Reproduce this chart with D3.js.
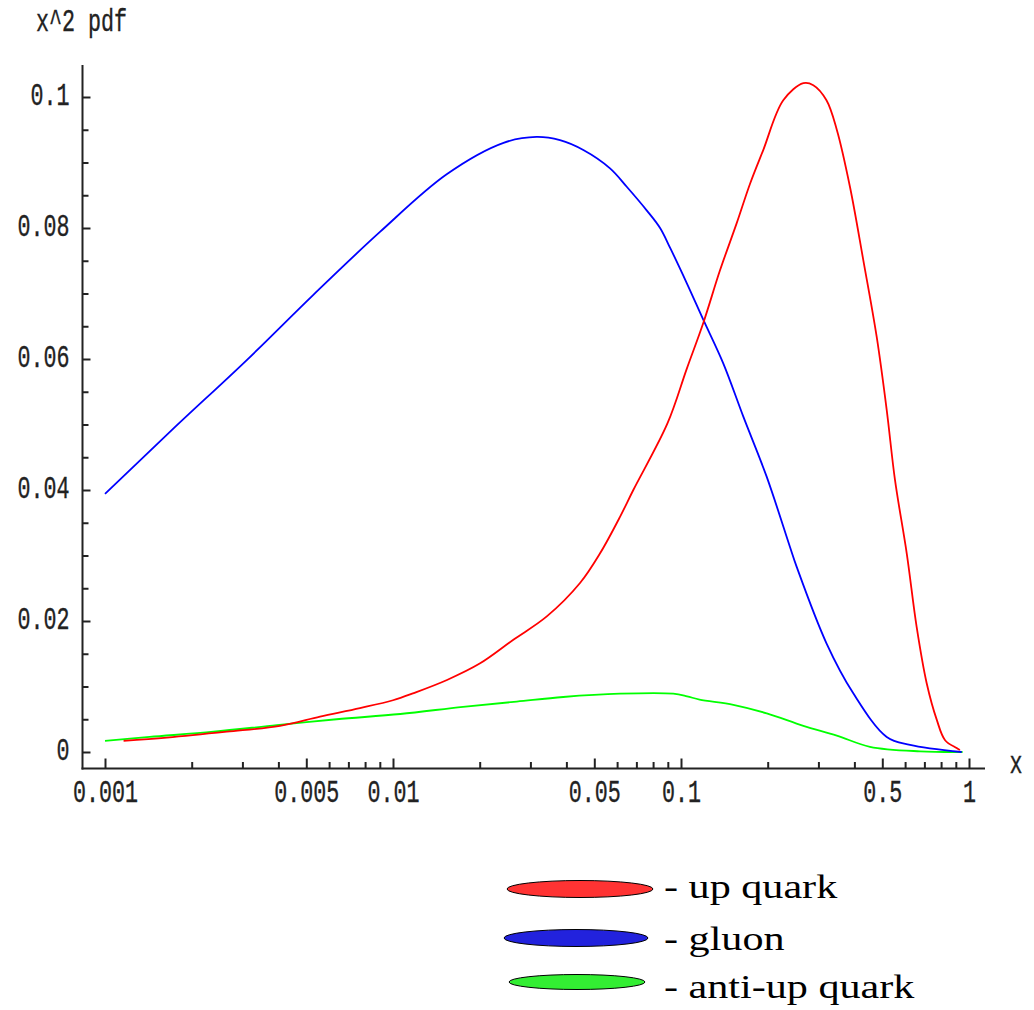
<!DOCTYPE html>
<html>
<head>
<meta charset="utf-8">
<script src="https://cdn.jsdelivr.net/npm/d3@7"></script>
<style>
  html, body { margin: 0; padding: 0; background: #fff; }
  svg { display: block; }
  .tick text { font-family: "Liberation Mono", "Courier New", monospace; font-size: 21.7px; fill: #222; stroke: #222; stroke-width: 0.25px; }
  .mono { font-family: "Liberation Mono", "Courier New", monospace; font-size: 21.7px; fill: #222; stroke: #222; stroke-width: 0.25px; }
  .legend-text { font-family: "Liberation Serif", "Times New Roman", serif; font-size: 34px; fill: #000; }
</style>
</head>
<body>
<script>
// Momentum-fraction grid and x^2·pdf values for each parton
const upX = [0.00116, 0.00164, 0.00265, 0.00405, 0.00558, 0.00768, 0.01, 0.0118, 0.0154, 0.020,
             0.0261, 0.0342, 0.0446, 0.0523, 0.0614, 0.0683, 0.0898, 0.1047, 0.1195, 0.1365,
             0.156, 0.1738, 0.193, 0.2265, 0.266, 0.288, 0.32, 0.3475, 0.386, 0.4295,
             0.478, 0.518, 0.5535, 0.608, 0.658, 0.713, 0.773, 0.826, 0.906, 0.93];
const upY = [0.0017, 0.0022, 0.0031, 0.0040, 0.0054, 0.0067, 0.0079, 0.0090, 0.0110, 0.0135,
             0.0171, 0.0207, 0.0258, 0.0303, 0.0359, 0.0400, 0.0502, 0.0585, 0.0655, 0.0735,
             0.0807, 0.0868, 0.0919, 0.0995, 0.1021, 0.1018, 0.0995, 0.0950, 0.0863, 0.0751,
             0.0634, 0.0522, 0.0415, 0.0303, 0.0191, 0.0105, 0.0049, 0.0018, 0.0006, 0.0003];

const gluonX = [0.001, 0.00173, 0.0031, 0.00529, 0.00901, 0.01536, 0.0242, 0.0315, 0.038, 0.0458,
                0.0567, 0.0648, 0.076, 0.0846, 0.0916, 0.1047, 0.1195, 0.1403, 0.1646, 0.1985,
                0.239, 0.252, 0.32, 0.396, 0.518, 0.624, 0.943];
const gluonY = [0.0394, 0.0494, 0.0598, 0.0698, 0.0794, 0.0882, 0.0930, 0.0939, 0.0934, 0.0919,
                0.0891, 0.0863, 0.0827, 0.0800, 0.0770, 0.0716, 0.0660, 0.0593, 0.0512, 0.0420,
                0.0313, 0.0283, 0.0166, 0.0090, 0.0023, 0.0011, 0.0000];

const antiUpX = [0.001, 0.00143, 0.00238, 0.00395, 0.00637, 0.0106, 0.0175, 0.0269, 0.039, 0.0614,
                 0.094, 0.105, 0.116, 0.152, 0.1985, 0.266, 0.3475, 0.453, 0.676, 0.95];
const antiUpY = [0.0017, 0.0023, 0.0031, 0.0041, 0.0050, 0.0058, 0.0069, 0.0077, 0.0084, 0.0089,
                 0.0089, 0.0085, 0.0080, 0.0072, 0.0059, 0.0040, 0.0025, 0.0008, 0.0001, 0.0000];

// Axis ticks
const xMajorTicks = [0.001, 0.005, 0.01, 0.05, 0.1, 0.5, 1];
const xTickLabels = ["0.001", "0.005", "0.01", "0.05", "0.1", "0.5", "1"];
const xMinorTicks = [0.002, 0.003, 0.004, 0.006, 0.007, 0.008, 0.009,
                     0.02, 0.03, 0.04, 0.06, 0.07, 0.08, 0.09,
                     0.2, 0.3, 0.4, 0.6, 0.7, 0.8, 0.9];
const yMajorTicks = [0, 0.02, 0.04, 0.06, 0.08, 0.1];
const yTickLabels = ["0", "0.02", "0.04", "0.06", "0.08", "0.1"];
const yMinorTicks = [0.005, 0.01, 0.015, 0.025, 0.03, 0.035, 0.045, 0.05, 0.055,
                     0.065, 0.07, 0.075, 0.085, 0.09, 0.095];

// Legend
const seriesNames = ["up quark", "gluon", "anti-up quark"];
const lineColors = ["#ff0000", "#0000ff", "#00ff00"];
const swatchColors = ["#ff3333", "#2222dd", "#33ee33"];

const W = 1034, H = 1010;
const svg = d3.select("body").append("svg").attr("width", W).attr("height", H);

const x = d3.scaleLog().domain([0.001, 1]).range([105, 969]);
const y = d3.scaleLinear().domain([0, 0.1]).range([752, 97]);

const axisX = 82.5, axisY = 768.5;
const SY = 1.42; // vertical stretch of the tick lettering

// Axis lines
svg.append("line").attr("x1", axisX).attr("x2", axisX).attr("y1", 65).attr("y2", 769.5)
  .attr("stroke", "#222").attr("stroke-width", 2);
svg.append("line").attr("x1", 81.5).attr("x2", 985).attr("y1", axisY).attr("y2", axisY)
  .attr("stroke", "#222").attr("stroke-width", 2);

// Y axis
const yMajor = svg.append("g").attr("transform", `translate(${axisX},0)`)
  .call(d3.axisLeft(y).tickValues(yMajorTicks).tickSize(-8).tickPadding(13)
    .tickFormat((d, i) => yTickLabels[i]));
const yMinor = svg.append("g").attr("transform", `translate(${axisX},0)`)
  .call(d3.axisLeft(y).tickValues(yMinorTicks).tickSize(-6).tickFormat(""));

// X axis
const xMajor = svg.append("g").attr("transform", `translate(0,${axisY})`)
  .call(d3.axisBottom(x).tickValues(xMajorTicks).tickSize(-10)
    .tickFormat((d, i) => xTickLabels[i]));
const xMinor = svg.append("g").attr("transform", `translate(0,${axisY})`)
  .call(d3.axisBottom(x).tickValues(xMinorTicks).tickSize(-6.5).tickFormat(""));

[yMajor, yMinor, xMajor, xMinor].forEach(g => {
  g.select(".domain").remove();
  g.selectAll(".tick line").attr("stroke", "#222").attr("stroke-width", 2);
});

yMajor.selectAll(".tick text")
  .attr("font-size", null).attr("font-family", null)
  .attr("dy", null).attr("y", 7.5 / SY)
  .attr("transform", `scale(1,${SY})`);
xMajor.selectAll(".tick text")
  .attr("font-size", null).attr("font-family", null)
  .attr("dy", null).attr("y", 33.5 / SY)
  .attr("transform", `scale(1,${SY})`);

// Axis titles
svg.append("g").attr("transform", `translate(36,31) scale(1,${SY})`)
  .append("text").attr("class", "mono").text("x^2 pdf");
svg.append("g").attr("transform", `translate(1016,773) scale(1,${SY})`)
  .append("text").attr("class", "mono").attr("text-anchor", "middle").text("x");

// Curves
const line = d3.line().x(d => x(d[0])).y(d => y(d[1])).curve(d3.curveCatmullRom.alpha(0.5));
const series = [
  { xs: antiUpX, ys: antiUpY, color: lineColors[2] },
  { xs: gluonX, ys: gluonY, color: lineColors[1] },
  { xs: upX, ys: upY, color: lineColors[0] }
];
series.forEach(s => {
  svg.append("path")
    .datum(s.xs.map((v, i) => [v, s.ys[i]]))
    .attr("d", line)
    .attr("fill", "none")
    .attr("stroke", s.color)
    .attr("stroke-width", 1.8)
    .attr("stroke-linejoin", "round");
});

// Legend
const legendRows = [
  { cx: 580, cy: 889, rx: 73, ry: 8.5, base: 898 },
  { cx: 576, cy: 938, rx: 72, ry: 8.5, base: 950 },
  { cx: 577, cy: 982, rx: 68, ry: 7.5, base: 998 }
];
legendRows.forEach((r, i) => {
  svg.append("ellipse").attr("cx", r.cx).attr("cy", r.cy).attr("rx", r.rx).attr("ry", r.ry)
    .attr("fill", swatchColors[i]).attr("stroke", "#000").attr("stroke-width", 1);
  svg.append("g").attr("transform", `translate(664,${r.base}) scale(1.24,1)`)
    .append("text").attr("class", "legend-text").text("- " + seriesNames[i]);
});
</script>
</body>
</html>
